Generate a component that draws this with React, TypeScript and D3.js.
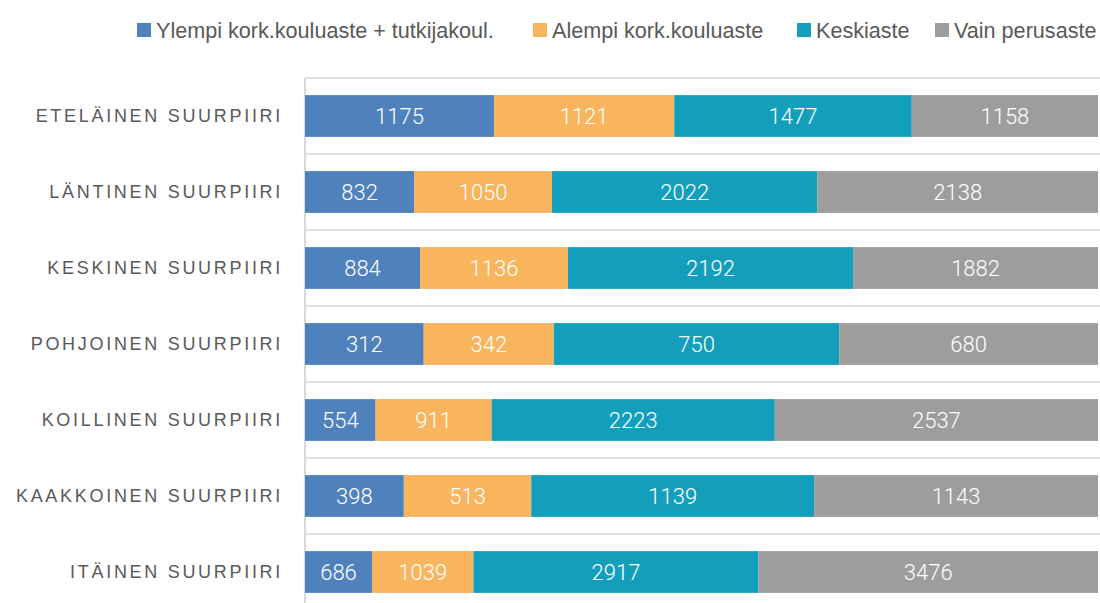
import React from 'react';
import * as d3 from 'd3';

const regions = [
  'ETELÄINEN SUURPIIRI',
  'LÄNTINEN SUURPIIRI',
  'KESKINEN SUURPIIRI',
  'POHJOINEN SUURPIIRI',
  'KOILLINEN SUURPIIRI',
  'KAAKKOINEN SUURPIIRI',
  'ITÄINEN SUURPIIRI',
];

const seriesNames = [
  'Ylempi kork.kouluaste + tutkijakoul.',
  'Alempi kork.kouluaste',
  'Keskiaste',
  'Vain perusaste',
];

const ylempi = [1175, 832, 884, 312, 554, 398, 686];
const alempi = [1121, 1050, 1136, 342, 911, 513, 1039];
const keskiaste = [1477, 2022, 2192, 750, 2223, 1139, 2917];
const perusaste = [1158, 2138, 1882, 680, 2537, 1143, 3476];

const colors = ['#4f81bd', '#f9b55d', '#139fbb', '#9d9d9d'];

const W = 1100;
const H = 603;
const margin = { top: 78, left: 305, right: 2 };
const step = 76;

const App = () => {
  const seriesValues = [ylempi, alempi, keskiaste, perusaste];
  const rows = regions.map((r, i) => {
    const row: any = { region: r };
    seriesNames.forEach((s, j) => (row[s] = seriesValues[j][i]));
    return row;
  });

  const stack = d3.stack<any>().keys(seriesNames).offset(d3.stackOffsetExpand);
  const layers = stack(rows);

  const x = d3.scaleLinear().domain([0, 1]).range([margin.left, W - margin.right]);
  const y = d3
    .scaleBand()
    .domain(regions)
    .range([margin.top, margin.top + step * regions.length])
    .paddingInner(0.45)
    .paddingOuter(0.225);

  const gridYs = d3.range(regions.length + 1).map((i) => margin.top + i * step);

  // legend layout
  const legendX = [137, 533, 797, 935];

  return (
    <svg
      width={W}
      height={H}
      style={{ position: 'absolute', left: 0, top: 0, background: '#fff' }}
    >
      {gridYs.map((gy) => (
        <line key={gy} x1={margin.left} x2={W} y1={gy} y2={gy} stroke="#d9d9d9" strokeWidth={1.5} />
      ))}
      <line
        x1={margin.left}
        x2={margin.left}
        y1={margin.top}
        y2={margin.top + step * regions.length}
        stroke="#d9d9d9"
        strokeWidth={2}
      />

      {layers.map((layer, li) => (
        <g key={layer.key} fill={colors[li]}>
          {layer.map((d: any, i) => {
            const x0 = x(d[0]);
            const x1 = x(d[1]);
            const yy = y(regions[i])!;
            return (
              <g key={i}>
                <rect x={x0} y={yy} width={x1 - x0} height={y.bandwidth()} />
                <text
                  x={(x0 + x1) / 2}
                  y={yy + y.bandwidth() / 2}
                  dy="0.36em"
                  textAnchor="middle"
                  fill="#fff"
                  fontFamily="Roboto, 'Liberation Sans', sans-serif"
                  fontWeight={300}
                  fontSize={22}
                >
                  {seriesValues[li][i]}
                </text>
              </g>
            );
          })}
        </g>
      ))}

      {regions.map((r) => (
        <text
          key={r}
          x={283}
          y={y(r)! + y.bandwidth() / 2}
          dy="0.36em"
          textAnchor="end"
          fill="#595959"
          fontFamily="'Liberation Sans', Arial, sans-serif"
          fontSize={18}
          letterSpacing={2.7}
        >
          {r}
        </text>
      ))}

      {seriesNames.map((s, i) => (
        <g key={s} transform={`translate(${legendX[i]},0)`}>
          <rect x={0} y={23} width={14} height={14} fill={colors[i]} />
          <text
            x={19}
            y={30}
            dy="0.36em"
            fill="#595959"
            fontFamily="'Liberation Sans', Arial, sans-serif"
            fontSize={21.6}
          >
            {s}
          </text>
        </g>
      ))}
    </svg>
  );
};

export default App;
